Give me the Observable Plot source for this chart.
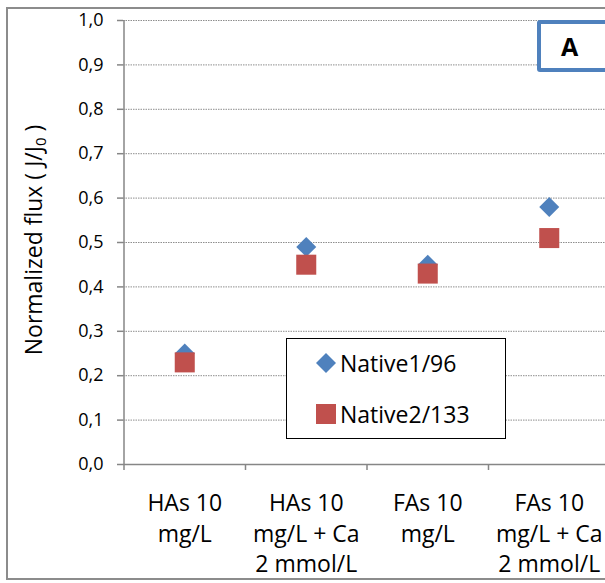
<!DOCTYPE html>
<html>
<head>
<meta charset="utf-8">
<script src="https://cdn.jsdelivr.net/npm/d3@7"></script>
<script src="https://cdn.jsdelivr.net/npm/@observablehq/plot@0.6"></script>
<style>
  html, body { margin: 0; padding: 0; background: #fff; }
  #wrap { position: relative; width: 605px; height: 583px; overflow: hidden; font-family: "Open Sans", sans-serif; }
  #frame { position: absolute; left: 6px; top: 7px; width: 620px; height: 573px; border: 2px solid #8c8c8c; box-sizing: border-box; pointer-events: none; }
  #ytitle { position: absolute; left: 33px; top: 240px; transform: translate(-50%, -50%) rotate(-90deg); white-space: nowrap; font-size: 23px; color: #000; }
  #ytitle sub { font-size: 15px; vertical-align: -4px; line-height: 0; }
  #abox { position: absolute; left: 537px; top: 20px; width: 90px; height: 52px; border: 4px solid #4f81bd; border-radius: 3px; box-sizing: border-box; background: #fff; }
  #abox span { position: absolute; left: 20px; top: 7px; font-weight: bold; font-size: 25px; line-height: 30px; }
  #legend { position: absolute; left: 286px; top: 338px; width: 220px; height: 101px; border: 1.5px solid #000; box-sizing: border-box; background: #fff; }
  .li { position: absolute; left: 28px; font-size: 23px; line-height: 30px; display: flex; align-items: center; }
  .li svg { margin-right: 4px; }
</style>
</head>
<body>
<div id="wrap">
  <div id="chart"></div>
  <div id="frame"></div>
  <div id="ytitle">Normalized flux ( J/J<sub>0</sub> )</div>
  <div id="abox"><span>A</span></div>
  <div id="legend"></div>
</div>
<script>
const categories = ["HAs 10\nmg/L", "HAs 10\nmg/L + Ca\n2 mmol/L", "FAs 10\nmg/L", "FAs 10\nmg/L + Ca\n2 mmol/L"];
const native1 = [0.25, 0.49, 0.45, 0.58];
const native2 = [0.23, 0.45, 0.43, 0.51];
const seriesNames = ["Native1/96", "Native2/133"];
const seriesColors = ["#4f81bd", "#c0504d"];
const yTicks = [0, 0.1, 0.2, 0.3, 0.4, 0.5, 0.6, 0.7, 0.8, 0.9, 1.0];

const rows1 = categories.map((c, i) => ({i, v: native1[i]}));
const rows2 = categories.map((c, i) => ({i, v: native2[i]}));
const boundaries = d3.range(categories.length + 1);

const chart = Plot.plot({
  width: 605,
  height: 583,
  marginLeft: 123,
  marginTop: 20,
  marginBottom: 119,
  marginRight: 0,
  style: {fontFamily: "Open Sans, sans-serif", background: "transparent"},
  x: {type: "linear", domain: [0, categories.length], range: [123.5, 609.5], axis: null, label: null},
  y: {type: "linear", domain: [0, 1], axis: null, label: null},
  marks: [
    Plot.ruleY(yTicks.filter(d => d > 0), {stroke: "#8e8e8e", strokeWidth: 1, strokeDasharray: "1.5,1"}),
    Plot.ruleY([0], {stroke: "#868686", strokeWidth: 1.5}),
    Plot.ruleX([0], {stroke: "#868686", strokeWidth: 1.5}),
    Plot.axisY({ticks: yTicks, label: null, tickFormat: d => d.toFixed(1).replace(".", ","), tickSize: 6, tickPadding: 14, stroke: "#868686", strokeWidth: 1.5, fontSize: 18, fill: "#000"}),
    Plot.axisX({ticks: boundaries, label: null, tickFormat: () => "", tickSize: 6, stroke: "#868686", strokeWidth: 1.5}),
    Plot.text(categories, {x: (d, i) => i + 0.5, y: () => 0, dy: 25, lineAnchor: "top", text: d => d, fontSize: 23, lineHeight: 1.33, fill: "#000"}),
    Plot.dot(rows1, {x: d => d.i + 0.5, y: "v", symbol: "diamond2", r: 9, fill: seriesColors[0], stroke: "none"}),
    Plot.dot(rows2, {x: d => d.i + 0.5, y: "v", symbol: "square", r: 11.3, fill: seriesColors[1], stroke: "none"})
  ]
});
document.getElementById("chart").appendChild(chart);

// Legend
const legend = document.getElementById("legend");
const syms = [
  '<svg width="20" height="20" viewBox="-10 -10 20 20"><path d="M0,-10L10,0L0,10L-10,0Z" fill="' + seriesColors[0] + '"/></svg>',
  '<svg width="20" height="20" viewBox="-10 -10 20 20"><rect x="-10" y="-10" width="20" height="20" fill="' + seriesColors[1] + '"/></svg>'
];
seriesNames.forEach((n, k) => {
  const d = document.createElement("div");
  d.className = "li";
  d.style.top = (k === 0 ? 9 : 60) + "px";
  d.style.left = "29px";
  d.innerHTML = syms[k] + "<span>" + n + "</span>";
  legend.appendChild(d);
});
</script>
</body>
</html>
